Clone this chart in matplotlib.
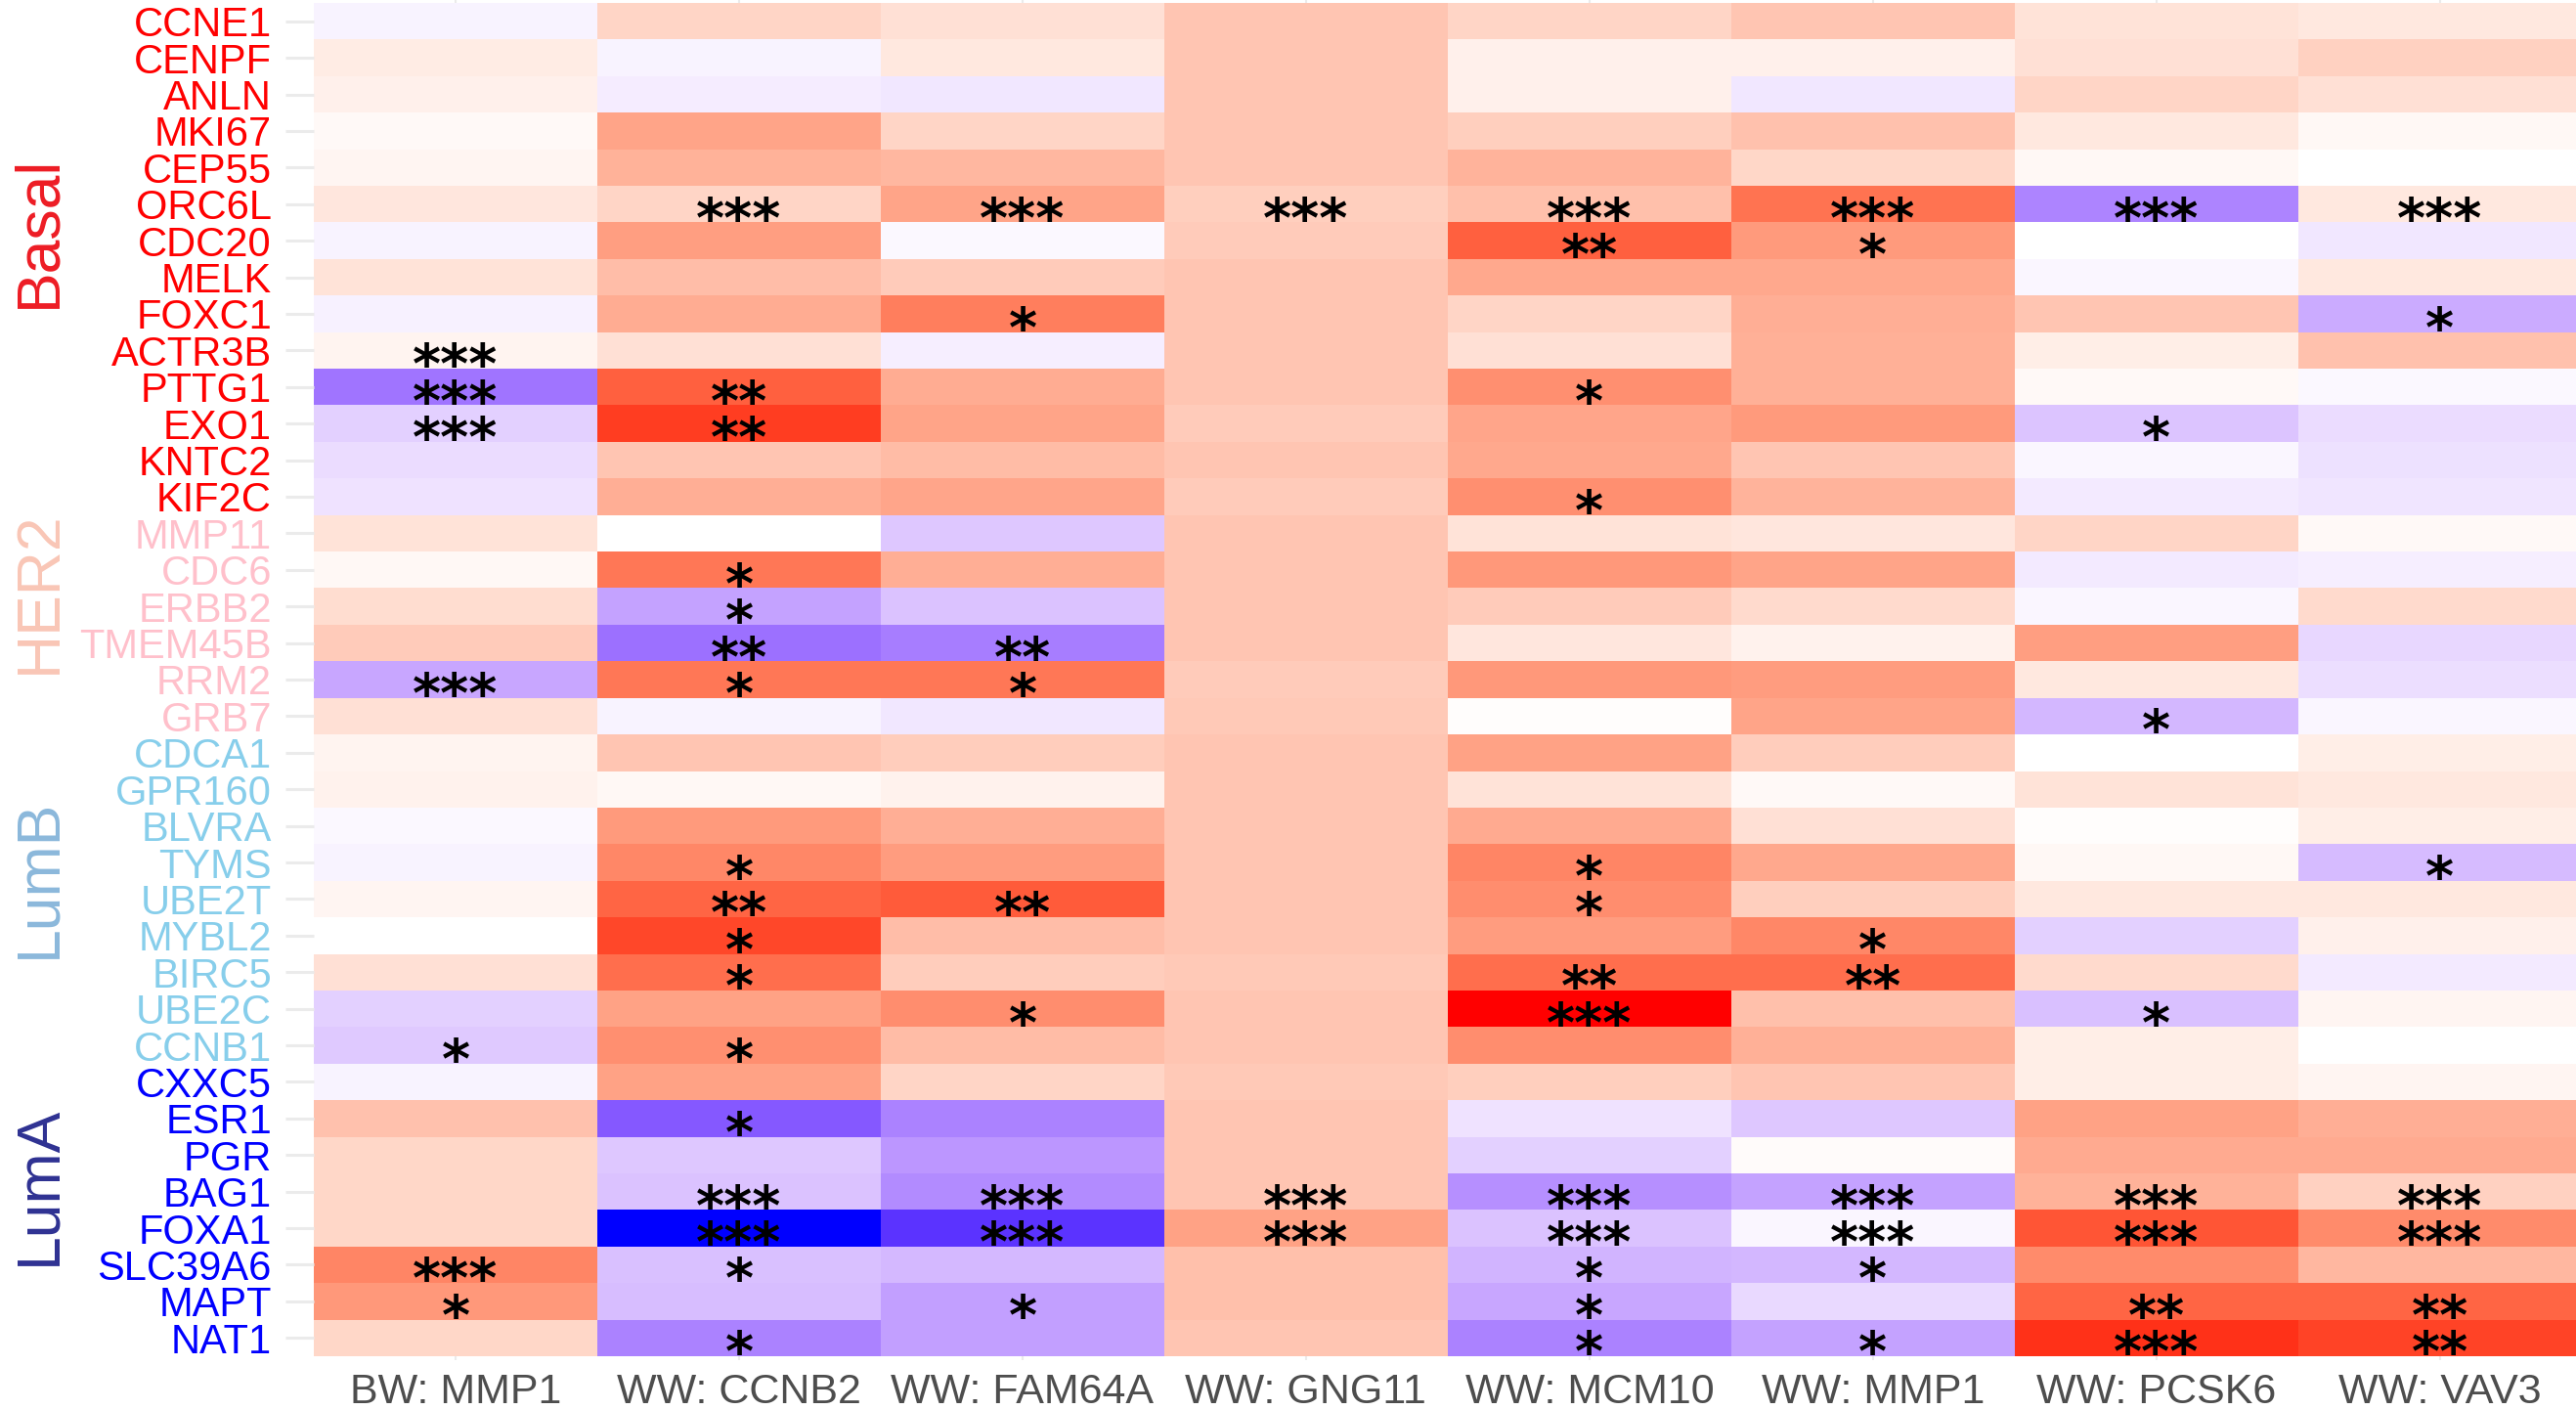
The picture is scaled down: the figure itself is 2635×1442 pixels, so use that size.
import numpy as np
import matplotlib
matplotlib.use("Agg")
import matplotlib.pyplot as plt
from matplotlib.colors import ListedColormap, Normalize
from matplotlib.transforms import blended_transform_factory

genes = ["CCNE1", "CENPF", "ANLN", "MKI67", "CEP55", "ORC6L", "CDC20", "MELK", "FOXC1",
         "ACTR3B", "PTTG1", "EXO1", "KNTC2", "KIF2C",
         "MMP11", "CDC6", "ERBB2", "TMEM45B", "RRM2", "GRB7",
         "CDCA1", "GPR160", "BLVRA", "TYMS", "UBE2T", "MYBL2", "BIRC5", "UBE2C", "CCNB1",
         "CXXC5", "ESR1", "PGR", "BAG1", "FOXA1", "SLC39A6", "MAPT", "NAT1"]
subtype = (["Basal"] * 14 + ["HER2"] * 6 + ["LumB"] * 9 + ["LumA"] * 8)
columns = ["BW: MMP1", "WW: CCNB2", "WW: FAM64A", "WW: GNG11",
           "WW: MCM10", "WW: MMP1", "WW: PCSK6", "WW: VAV3"]

# scaled association values (-1 = blue, +1 = red), one list per column (rows in gene order)
v_bw_mmp1 = [-0.05, 0.10, 0.08, 0.03, 0.05, 0.13, -0.05, 0.15, -0.06, 0.06, -0.60, -0.20, -0.15, -0.12,
             0.15, 0.04, 0.18, 0.27, -0.38, 0.16,
             0.06, 0.07, -0.03, -0.05, 0.05, 0.00, 0.16, -0.20, -0.23,
             -0.05, 0.32, 0.21, 0.21, 0.21, 0.62, 0.53, 0.21]
v_ww_ccnb2 = [0.22, -0.05, -0.08, 0.47, 0.40, 0.22, 0.50, 0.34, 0.43, 0.16, 0.78, 0.90, 0.30, 0.42,
              0.00, 0.68, -0.40, -0.62, 0.68, -0.05,
              0.30, 0.04, 0.52, 0.61, 0.76, 0.87, 0.72, 0.48, 0.57,
              0.48, -0.72, -0.24, -0.26, -1.00, -0.27, -0.28, -0.54]
v_ww_fam64a = [0.16, 0.12, -0.10, 0.22, 0.37, 0.47, -0.03, 0.27, 0.65, -0.07, 0.43, 0.47, 0.35, 0.46,
               -0.24, 0.42, -0.26, -0.56, 0.68, -0.10,
               0.26, 0.07, 0.42, 0.51, 0.80, 0.34, 0.26, 0.58, 0.35,
               0.22, -0.54, -0.45, -0.50, -0.87, -0.30, -0.41, -0.41]
v_ww_gng11 = [0.30, 0.30, 0.30, 0.30, 0.30, 0.25, 0.27, 0.30, 0.30, 0.30, 0.30, 0.27, 0.30, 0.27,
              0.30, 0.30, 0.30, 0.30, 0.27, 0.28,
              0.30, 0.30, 0.30, 0.30, 0.30, 0.30, 0.28, 0.30, 0.30,
              0.28, 0.30, 0.30, 0.30, 0.48, 0.33, 0.33, 0.30]
v_ww_mcm10 = [0.22, 0.08, 0.08, 0.25, 0.39, 0.33, 0.78, 0.45, 0.22, 0.16, 0.57, 0.46, 0.45, 0.57,
              0.15, 0.53, 0.27, 0.13, 0.53, 0.01,
              0.48, 0.15, 0.44, 0.62, 0.58, 0.51, 0.72, 1.00, 0.58,
              0.25, -0.12, -0.20, -0.48, -0.26, -0.32, -0.38, -0.54]
v_ww_mmp1 = [0.30, 0.08, -0.10, 0.32, 0.21, 0.70, 0.52, 0.45, 0.42, 0.41, 0.41, 0.52, 0.30, 0.39,
             0.13, 0.47, 0.19, 0.07, 0.51, 0.47,
             0.26, 0.03, 0.16, 0.45, 0.25, 0.61, 0.72, 0.33, 0.41,
             0.30, -0.24, 0.02, -0.40, -0.04, -0.31, -0.16, -0.40]
v_ww_pcsk6 = [0.15, 0.16, 0.22, 0.12, 0.04, -0.53, 0.00, -0.04, 0.30, 0.09, 0.03, -0.25, -0.04, -0.09,
              0.22, -0.09, -0.04, 0.50, 0.12, -0.31,
              0.00, 0.15, 0.01, 0.04, 0.12, -0.20, 0.19, -0.27, 0.09,
              0.09, 0.48, 0.44, 0.40, 0.82, 0.59, 0.76, 0.93]
v_ww_vav3 = [0.12, 0.24, 0.16, 0.04, 0.00, 0.12, -0.10, 0.12, -0.36, 0.32, -0.03, -0.15, -0.13, -0.11,
             0.03, -0.07, 0.19, -0.17, -0.14, -0.04,
             0.09, 0.12, 0.09, -0.29, 0.12, 0.08, -0.09, 0.05, 0.00,
             0.05, 0.42, 0.44, 0.24, 0.59, 0.37, 0.76, 0.88]

# significance stars: row index -> label, per column
s_bw_mmp1 = {9: "***", 10: "***", 11: "***", 18: "***", 28: "*", 34: "***", 35: "*"}
s_ww_ccnb2 = {5: "***", 10: "**", 11: "**", 15: "*", 16: "*", 17: "**", 18: "*", 23: "*", 24: "**",
              25: "*", 26: "*", 28: "*", 30: "*", 32: "***", 33: "***", 34: "*", 36: "*"}
s_ww_fam64a = {5: "***", 8: "*", 17: "**", 18: "*", 24: "**", 27: "*", 32: "***", 33: "***", 35: "*"}
s_ww_gng11 = {5: "***", 32: "***", 33: "***"}
s_ww_mcm10 = {5: "***", 6: "**", 10: "*", 13: "*", 23: "*", 24: "*", 26: "**", 27: "***",
              32: "***", 33: "***", 34: "*", 35: "*", 36: "*"}
s_ww_mmp1 = {5: "***", 6: "*", 25: "*", 26: "**", 32: "***", 33: "***", 34: "*", 36: "*"}
s_ww_pcsk6 = {5: "***", 11: "*", 19: "*", 27: "*", 32: "***", 33: "***", 35: "**", 36: "***"}
s_ww_vav3 = {5: "***", 8: "*", 23: "*", 32: "***", 33: "***", 35: "**", 36: "**"}

group_names = ["Basal", "HER2", "LumB", "LumA"]
group_label_rows = [5.76, 15.6, 23.43, 31.83]
group_label_colors = ["#ED1C24", "#F9C6B6", "#8BB8DB", "#2E3192"]
gene_label_colors = {"Basal": "#FF0000", "HER2": "#FFC0CB", "LumB": "#87CEEB", "LumA": "#0000FF"}

values = np.array([v_bw_mmp1, v_ww_ccnb2, v_ww_fam64a, v_ww_gng11,
                   v_ww_mcm10, v_ww_mmp1, v_ww_pcsk6, v_ww_vav3]).T
stars = [s_bw_mmp1, s_ww_ccnb2, s_ww_fam64a, s_ww_gng11, s_ww_mcm10, s_ww_mmp1, s_ww_pcsk6, s_ww_vav3]


# ---- Lab-space diverging palette (blue - white - red) ----
def srgb_to_lab(rgb):
    rgb = np.asarray(rgb, float)
    lin = np.where(rgb <= 0.04045, rgb / 12.92, ((rgb + 0.055) / 1.055) ** 2.4)
    M = np.array([[0.4124564, 0.3575761, 0.1804375],
                  [0.2126729, 0.7151522, 0.0721750],
                  [0.0193339, 0.1191920, 0.9503041]])
    xyz = lin @ M.T / np.array([0.95047, 1.0, 1.08883])
    d = 6 / 29
    f = np.where(xyz > d ** 3, np.cbrt(xyz), xyz / (3 * d * d) + 4 / 29)
    return np.stack([116 * f[..., 1] - 16, 500 * (f[..., 0] - f[..., 1]), 200 * (f[..., 1] - f[..., 2])], -1)


def lab_to_srgb(lab):
    lab = np.asarray(lab, float)
    fy = (lab[..., 0] + 16) / 116
    fx = fy + lab[..., 1] / 500
    fz = fy - lab[..., 2] / 200
    d = 6 / 29
    def finv(t):
        return np.where(t > d, t ** 3, 3 * d * d * (t - 4 / 29))
    xyz = np.stack([finv(fx), finv(fy), finv(fz)], -1) * np.array([0.95047, 1.0, 1.08883])
    Minv = np.array([[3.2404542, -1.5371385, -0.4985314],
                     [-0.9692660, 1.8760108, 0.0415560],
                     [0.0556434, -0.2040259, 1.0572252]])
    lin = xyz @ Minv.T
    lin = np.clip(lin, 0, 1)
    rgb = np.where(lin <= 0.0031308, 12.92 * lin, 1.055 * lin ** (1 / 2.4) - 0.055)
    return np.clip(rgb, 0, 1)


lab_low = srgb_to_lab([0, 0, 1])
lab_mid = srgb_to_lab([1, 1, 1])
lab_high = srgb_to_lab([1, 0, 0])
tt = np.linspace(-1, 1, 511)
labs = np.where(tt[:, None] < 0,
                lab_mid + (-tt[:, None]) * (lab_low - lab_mid),
                lab_mid + tt[:, None] * (lab_high - lab_mid))
cmap = ListedColormap(lab_to_srgb(labs))

W, H = 2635, 1442
fig = plt.figure(figsize=(W / 100, H / 100), dpi=100)
left_px, right_px, top_px, bottom_px = 321, 2635, 0, 1387
ax = fig.add_axes([left_px / W, 1 - bottom_px / H, (right_px - left_px) / W, (bottom_px - top_px) / H])

n_rows, n_cols = values.shape
ax.set_xlim(-0.5, n_cols - 0.5 - 0.02)
ax.set_ylim(n_rows - 0.5, -0.58)

# faint vertical grid lines (visible in the thin gap above the tiles)
for j in range(n_cols):
    ax.axvline(j, color="#EBEBEB", lw=1.5, zorder=0)

ax.pcolormesh(np.arange(n_cols + 1) - 0.5, np.arange(n_rows + 1) - 0.5, values,
              cmap=cmap, norm=Normalize(-1, 1), shading="flat", zorder=1, edgecolors="none",
              antialiased=False)

for j, col_stars in enumerate(stars):
    for i, s in col_stars.items():
        ax.text(j, i + 0.88, s, ha="center", va="baseline", fontsize=40, fontweight="bold",
                family="DejaVu Sans", color="black", zorder=3)

for sp in ax.spines.values():
    sp.set_visible(False)

ax.set_yticks(range(n_rows))
ax.set_yticklabels(genes, family="Liberation Sans", fontsize=30)
for lbl, st in zip(ax.get_yticklabels(), subtype):
    lbl.set_color(gene_label_colors[st])
ax.tick_params(axis="y", length=21, width=2.2, color="#EBEBEB", pad=10)

ax.set_xticks(range(n_cols))
ax.set_xticklabels(columns, family="Liberation Sans", fontsize=31, color="#4D4D4D")
ax.tick_params(axis="x", length=3, width=1.5, color="#EBEBEB", pad=9)

trans = blended_transform_factory(fig.transFigure, ax.transData)
for name, row, col in zip(group_names, group_label_rows, group_label_colors):
    ax.text(40 / W, row, name, transform=trans, rotation=90, ha="center", va="center",
            fontsize=45, family="Liberation Sans", color=col)

fig.savefig("out.png", dpi=100, facecolor="white")
